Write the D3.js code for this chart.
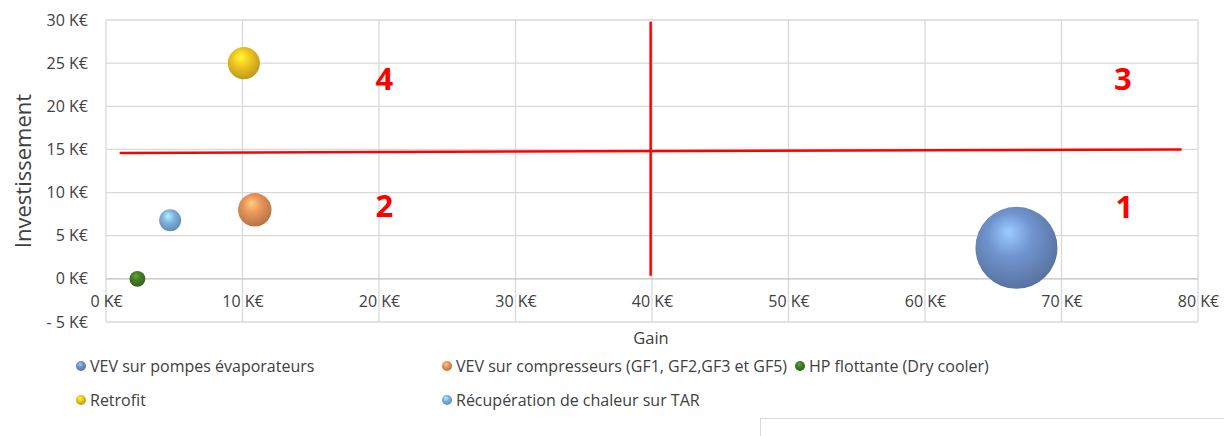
<!DOCTYPE html>
<html>
<head>
<meta charset="utf-8">
<script src="https://cdn.jsdelivr.net/npm/d3@7"></script>
<style>
  body { margin: 0; background: #fff; }
  svg { display: block; font-family: "Open Sans", "DejaVu Sans", sans-serif; }
</style>
</head>
<body>
<div id="chart"></div>
<script>
// Series (one bubble per series), values in K€
const series = [
    'VEV sur pompes évaporateurs',
    'VEV sur compresseurs (GF1, GF2,GF3 et GF5)',
    'HP flottante (Dry cooler)',
    'Retrofit',
    'Récupération de chaleur sur TAR'
];
const gains = [66.7, 10.9, 2.3, 10.1, 4.7];
const investments = [3.6, 8.0, 0.0, 25.0, 6.8];
const sizes = [66.7, 11.1, 2.5, 10.2, 4.8];
const colors = ['#7194cf', '#e9955a', '#467c27', '#f1c622', '#82b3e1'];

const xTicks = [0, 10, 20, 30, 40, 50, 60, 70, 80];
const yTicks = [-5, 0, 5, 10, 15, 20, 25, 30];

// Quadrant separators and labels (in K€)
const quadLines = [
    [[1.0, 14.6], [78.8, 15.0]],
    [[39.9, 29.8], [39.9, 0.35]]
];
const quadLabels = ['1', '2', '3', '4'];
const quadGain = [74.6, 20.4, 74.5, 20.4];
const quadInv = [8.5, 8.6, 23.3, 23.3];

const width = 1224;
const height = 436;
const plot = { left: 106, right: 1198, top: 20, bottom: 322 };

const svg = d3.select('#chart').append('svg')
    .attr('width', width)
    .attr('height', height);

const x = d3.scaleLinear().domain([0, 80]).range([plot.left, plot.right]);
const y = d3.scaleLinear().domain([-5, 30]).range([plot.bottom, plot.top]);
const r = d3.scaleSqrt().domain([0, d3.max(sizes)]).range([0, 41]);

const fmt = d => d < 0 ? `- ${-d} K€` : `${d} K€`;

// sphere-like gradients
const defs = svg.append('defs');
colors.forEach((c, i) => {
    const g = defs.append('radialGradient')
        .attr('id', 'sphere' + i)
        .attr('cx', '45%').attr('cy', '40%').attr('r', '60%')
        .attr('fx', '40%').attr('fy', '30%');
    g.append('stop').attr('offset', '0%').attr('stop-color', d3.color(c).brighter(0.9));
    g.append('stop').attr('offset', '45%').attr('stop-color', c);
    g.append('stop').attr('offset', '100%').attr('stop-color', d3.color(c).darker(0.7));
});

// gridlines
svg.append('g')
    .selectAll('line')
    .data(xTicks)
    .join('line')
    .attr('x1', d => x(d)).attr('x2', d => x(d))
    .attr('y1', plot.top).attr('y2', plot.bottom)
    .attr('stroke', '#d9d9d9').attr('stroke-width', 1.3);

svg.append('g')
    .selectAll('line')
    .data(yTicks)
    .join('line')
    .attr('x1', plot.left).attr('x2', plot.right)
    .attr('y1', d => y(d)).attr('y2', d => y(d))
    .attr('stroke', d => d === 0 ? '#bfbfbf' : '#d9d9d9')
    .attr('stroke-width', 1.3);

// y axis labels
const yAxis = svg.append('g')
    .attr('transform', `translate(${plot.left},0)`)
    .call(d3.axisLeft(y).tickValues(yTicks).tickFormat(fmt).tickSize(0).tickPadding(18));
yAxis.select('.domain').remove();
yAxis.selectAll('text')
    .attr('font-size', 16).attr('fill', '#404040')
    .attr('font-family', '"Open Sans", sans-serif');

// x axis labels (axis crosses at 0)
const xAxis = svg.append('g')
    .attr('transform', `translate(0,${y(0)})`)
    .call(d3.axisBottom(x).tickValues(xTicks).tickFormat(fmt).tickSize(0).tickPadding(17));
xAxis.select('.domain').remove();
xAxis.selectAll('text')
    .attr('font-size', 16).attr('fill', '#404040')
    .attr('font-family', '"Open Sans", sans-serif');

// axis titles
svg.append('text')
    .attr('transform', `translate(31,${(y(30) + y(-5)) / 2}) rotate(-90)`)
    .attr('text-anchor', 'middle')
    .attr('font-size', 22).attr('fill', '#404040')
    .text('Investissement');

svg.append('text')
    .attr('x', (plot.left + plot.right) / 2 - 1)
    .attr('y', 344)
    .attr('text-anchor', 'middle')
    .attr('font-size', 16.5).attr('fill', '#404040')
    .text('Gain');

// quadrant lines
svg.append('g')
    .selectAll('line')
    .data(quadLines)
    .join('line')
    .attr('x1', d => x(d[0][0])).attr('y1', d => y(d[0][1]))
    .attr('x2', d => x(d[1][0])).attr('y2', d => y(d[1][1]))
    .attr('stroke', '#ff0000').attr('stroke-width', 2.5);

// bubbles
const bubbles = series.map((name, i) => ({ name, i, gain: gains[i], inv: investments[i], size: sizes[i] }));
svg.append('g')
    .selectAll('circle')
    .data(bubbles)
    .join('circle')
    .attr('cx', d => x(d.gain))
    .attr('cy', d => y(d.inv))
    .attr('r', d => r(d.size))
    .attr('fill', d => `url(#sphere${d.i})`);

// quadrant numbers
svg.append('g')
    .selectAll('text')
    .data(quadLabels)
    .join('text')
    .attr('x', (d, i) => x(quadGain[i]))
    .attr('y', (d, i) => y(quadInv[i]))
    .attr('text-anchor', 'middle')
    .attr('dominant-baseline', 'central')
    .attr('font-size', 31).attr('font-weight', 'bold')
    .attr('fill', '#ff0000')
    .text(d => d);

// legend
const legendCols = [81, 447, 800];
const legendRows = [366, 400];
const legendPos = [[0, 0], [1, 0], [2, 0], [0, 1], [1, 1]];
const legend = svg.append('g')
    .selectAll('g')
    .data(bubbles)
    .join('g')
    .attr('transform', d => `translate(${legendCols[legendPos[d.i][0]]},${legendRows[legendPos[d.i][1]]})`);
legend.append('circle')
    .attr('r', 5)
    .attr('fill', d => `url(#sphere${d.i})`);
legend.append('text')
    .attr('x', 9)
    .attr('dominant-baseline', 'central')
    .attr('font-size', 16).attr('fill', '#404040')
    .text(d => d.name);

// empty box at bottom right
svg.append('rect')
    .attr('x', 760.5).attr('y', 418.5)
    .attr('width', 480).attr('height', 40)
    .attr('fill', 'none')
    .attr('stroke', '#d9d9d9');
</script>
</body>
</html>
